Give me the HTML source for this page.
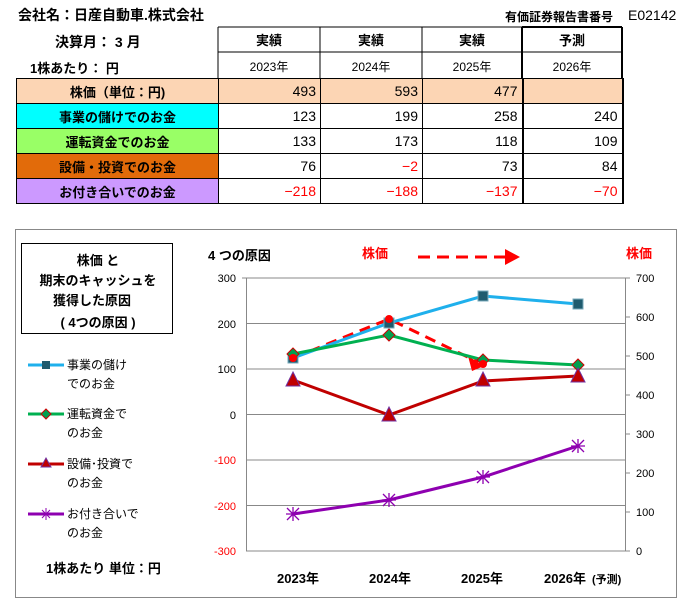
<!DOCTYPE html>
<html><head><meta charset="utf-8">
<style>
*{margin:0;padding:0;box-sizing:border-box}
body{width:683px;height:604px;background:#fff;position:relative;font-family:"Liberation Sans","Noto Sans CJK JP",sans-serif;overflow:hidden}
.t{position:absolute;white-space:nowrap;color:#000}
table{position:absolute;left:16px;top:27px;border-collapse:collapse;font-size:14px;table-layout:fixed;width:606px}
td{border:1px solid #000;height:25px;padding:0 4px;font-family:"Liberation Sans","Noto Sans CJK JP",sans-serif;overflow:hidden;white-space:nowrap}
td.n{text-align:right}
td.h{text-align:center;font-weight:bold;font-size:13px}
.r{color:#f00}
</style></head><body>
<div class="t" style="left:18px;top:5px;font-size:14px;font-weight:bold">会社名：日産自動車.株式会社</div>
<div class="t" style="left:505px;top:8px;font-size:12px;font-weight:bold">有価証券報告書番号</div>
<div class="t" style="left:628px;top:7px;font-size:14px">E02142</div>
<div class="t" style="left:55px;top:32px;font-size:14px;font-weight:bold">決算月： 3 月</div>
<div class="t" style="left:30px;top:58px;font-size:13px;font-weight:bold">1株あたり： 円</div>
<svg style="position:absolute;left:0;top:0" width="683" height="210">
<g stroke="#000" stroke-width="1" fill="none">
<line x1="218" y1="27" x2="622" y2="27"/><line x1="218" y1="52" x2="622" y2="52"/>
<line x1="218" y1="27" x2="218" y2="78"/><line x1="320" y1="27" x2="320" y2="78"/><line x1="422" y1="27" x2="422" y2="78"/>
<line x1="522" y1="27" x2="522" y2="78" stroke-width="2"/><line x1="622" y1="27" x2="622" y2="78" stroke-width="2"/>
<line x1="522" y1="27" x2="622" y2="27" stroke-width="2"/>
</g>
<g font-size="13" text-anchor="middle" font-family="Liberation Sans,Noto Sans CJK JP,sans-serif">
<text x="269" y="45" font-weight="bold">実績</text><text x="371" y="45" font-weight="bold">実績</text><text x="472" y="45" font-weight="bold">実績</text><text x="572" y="45" font-weight="bold">予測</text>
<text x="269" y="71" font-size="12">2023年</text><text x="371" y="71" font-size="12">2024年</text><text x="472" y="71" font-size="12">2025年</text><text x="572" y="71" font-size="12">2026年</text>
</g>
</svg>
<table style="top:78px">
<colgroup><col style="width:202px"><col style="width:102px"><col style="width:102px"><col style="width:100px"><col style="width:100px"></colgroup>
<tr style="background:#fcd5b4"><td class="h">株価（単位：円)</td><td class="n">493</td><td class="n">593</td><td class="n" style="border-right:2px solid #000">477</td><td class="n" style="border-right:2px solid #000"></td></tr>
<tr><td class="h" style="background:#00ffff">事業の儲けでのお金</td><td class="n">123</td><td class="n">199</td><td class="n" style="border-right:2px solid #000">258</td><td class="n" style="border-right:2px solid #000">240</td></tr>
<tr><td class="h" style="background:#99ff66">運転資金でのお金</td><td class="n">133</td><td class="n">173</td><td class="n" style="border-right:2px solid #000">118</td><td class="n" style="border-right:2px solid #000">109</td></tr>
<tr><td class="h" style="background:#e26b0a">設備・投資でのお金</td><td class="n">76</td><td class="n r">−2</td><td class="n" style="border-right:2px solid #000">73</td><td class="n" style="border-right:2px solid #000">84</td></tr>
<tr><td class="h" style="background:#cc99ff">お付き合いでのお金</td><td class="n r">−218</td><td class="n r">−188</td><td class="n r" style="border-right:2px solid #000">−137</td><td class="n r" style="border-right:2px solid #000">−70</td></tr>
</table>

<svg style="position:absolute;left:0;top:0" width="683" height="604" font-family="Liberation Sans,Noto Sans CJK JP,sans-serif">
<rect x="15.5" y="229.5" width="661" height="368" fill="#fff" stroke="#888"/>
<rect x="21.5" y="243.5" width="151" height="90" fill="#fff" stroke="#000"/>
<g font-size="13" font-weight="bold" text-anchor="middle">
<text x="98" y="265">株価 と</text><text x="98" y="285">期末のキャッシュを</text><text x="92" y="305">獲得した原因</text><text x="98" y="327">( 4つの原因 )</text>
</g>
<text x="208" y="260" font-size="13" font-weight="bold">4 つの原因</text>
<text x="362" y="258" font-size="13" font-weight="bold" fill="#f00">株価</text>
<text x="626" y="258" font-size="13" font-weight="bold" fill="#f00">株価</text>
<line x1="418" y1="257" x2="505" y2="257" stroke="#f00" stroke-width="3" stroke-dasharray="12,7"/>
<polygon points="505,249 520,257 505,265" fill="#f00"/>
<g stroke="#888" stroke-width="1">
<line x1="246" y1="278" x2="625" y2="278"/><line x1="246" y1="323.5" x2="625" y2="323.5"/><line x1="246" y1="369" x2="625" y2="369"/>
<line x1="246" y1="414.5" x2="625" y2="414.5"/><line x1="246" y1="460" x2="625" y2="460"/><line x1="246" y1="505.5" x2="625" y2="505.5"/><line x1="246" y1="551" x2="625" y2="551"/>
<line x1="246.5" y1="278" x2="246.5" y2="551"/><line x1="625.5" y1="278" x2="625.5" y2="551"/>
<line x1="242" y1="278" x2="246" y2="278"/><line x1="625" y1="278" x2="630" y2="278"/><line x1="625" y1="317" x2="630" y2="317"/><line x1="625" y1="356" x2="630" y2="356"/><line x1="625" y1="395" x2="630" y2="395"/><line x1="625" y1="434" x2="630" y2="434"/><line x1="625" y1="473" x2="630" y2="473"/><line x1="625" y1="512" x2="630" y2="512"/><line x1="625" y1="551" x2="630" y2="551"/>
</g>
<g font-size="11" text-anchor="end">
<text x="236" y="282">300</text><text x="236" y="328">200</text><text x="236" y="373">100</text><text x="236" y="419">0</text>
<text x="236" y="464" fill="#f00">-100</text><text x="236" y="510" fill="#f00">-200</text><text x="236" y="555" fill="#f00">-300</text>
</g>
<g font-size="11">
<text x="636" y="282">700</text><text x="636" y="321">600</text><text x="636" y="360">500</text><text x="636" y="399">400</text><text x="636" y="438">300</text><text x="636" y="477">200</text><text x="636" y="516">100</text><text x="636" y="555">0</text>
</g>
<g font-size="13" font-weight="bold" text-anchor="middle">
<text x="298" y="583">2023年</text><text x="390" y="583">2024年</text><text x="482" y="583">2025年</text><text x="565" y="583">2026年</text>
</g>
<text x="592" y="583" font-size="11" font-weight="bold">(予測)</text>
<polyline points="293,358 389,319 478,362" fill="none" stroke="#f00" stroke-width="3" stroke-dasharray="11,7"/>
<polygon points="468,356 484,366 472,371" fill="#f00"/>
<polyline points="293,358 389,323 483,296 578,304" fill="none" stroke="#1fb0ec" stroke-width="3"/>
<polyline points="293,354 389,335 483,360 578,365" fill="none" stroke="#00b050" stroke-width="3"/>
<polyline points="293,380 389,415 483,381 578,376" fill="none" stroke="#c00000" stroke-width="3"/>
<polyline points="293,514 389,500 483,477 578,446" fill="none" stroke="#8e00b0" stroke-width="3"/>
<g fill="#1f5b6e" stroke="#7ab" stroke-width="1">
<rect x="288" y="353" width="10" height="10"/><rect x="384" y="318" width="10" height="10"/><rect x="478" y="291" width="10" height="10"/><rect x="573" y="299" width="10" height="10"/>
</g>
<g fill="#00a050" stroke="#c00" stroke-width="1">
<polygon points="293,348 299,354 293,360 287,354"/><polygon points="389,329 395,335 389,341 383,335"/><polygon points="483,354 489,360 483,366 477,360"/><polygon points="578,359 584,365 578,371 572,365"/>
</g>
<g fill="#f00"><circle cx="293" cy="358" r="4"/><circle cx="389" cy="319" r="4"/><circle cx="483" cy="364" r="4"/></g>
<g fill="#c00000" stroke="#7030a0" stroke-width="1">
<polygon points="293,372 300,386 286,386"/><polygon points="389,407 396,421 382,421"/><polygon points="483,372 490,386 476,386"/><polygon points="578,368 585,382 571,382"/>
</g>
<g stroke="#8e00b0" stroke-width="1.3">
<path d="M287,508l12,12M299,508l-12,12M293,507v14M286,514h14"/>
<path d="M383,494l12,12M395,494l-12,12M389,493v14M382,500h14"/>
<path d="M477,471l12,12M489,471l-12,12M483,470v14M476,477h14"/>
<path d="M572,440l12,12M584,440l-12,12M578,439v14M571,446h14"/>
</g>
<line x1="28" y1="365" x2="64" y2="365" stroke="#1fb0ec" stroke-width="3"/><rect x="42" y="361" width="8" height="8" fill="#1f5b6e"/>
<line x1="28" y1="414" x2="64" y2="414" stroke="#00b050" stroke-width="3"/><polygon points="46,409 51,414 46,419 41,414" fill="#00a050" stroke="#c00"/>
<line x1="28" y1="464" x2="64" y2="464" stroke="#c00000" stroke-width="3"/><polygon points="46,458 51,467 41,467" fill="#c00000" stroke="#7030a0"/>
<line x1="28" y1="514" x2="64" y2="514" stroke="#8e00b0" stroke-width="3"/><path d="M42,510l8,8M50,510l-8,8M46,508v12" stroke="#8e00b0"/>
<g font-size="12">
<text x="67" y="369">事業の儲け</text><text x="67" y="388">でのお金</text>
<text x="67" y="418">運転資金で</text><text x="67" y="437">のお金</text>
<text x="67" y="468">設備･投資で</text><text x="67" y="487">のお金</text>
<text x="67" y="518">お付き合いで</text><text x="67" y="537">のお金</text>
</g>
<text x="46" y="573" font-size="13" font-weight="bold">1株あたり 単位：円</text>
</svg>
</body></html>
